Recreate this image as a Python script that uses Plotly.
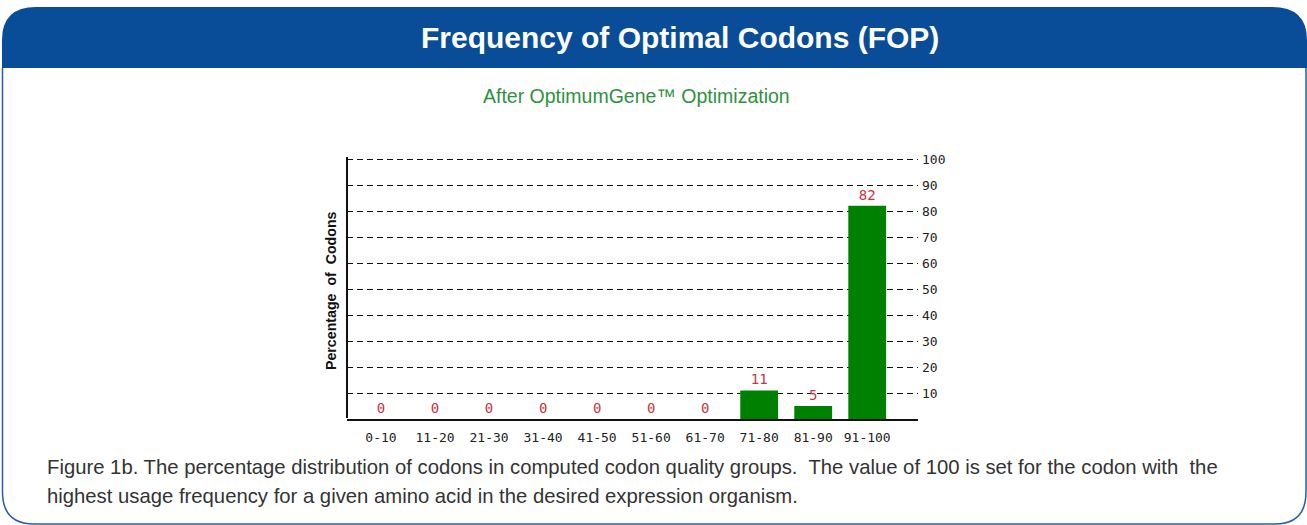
import plotly.graph_objects as go

W, H = 1307, 525

categories = ["0-10", "11-20", "21-30", "31-40", "41-50", "51-60", "61-70", "71-80", "81-90", "91-100"]
values = [0, 0, 0, 0, 0, 0, 0, 11, 5, 82]
y_ticks = [10, 20, 30, 40, 50, 60, 70, 80, 90, 100]

title_text = "Frequency of Optimal Codons (FOP)"
subtitle_text = "After OptimumGene\u2122 Optimization"
y_title = "Percentage\u00a0 of\u00a0 Codons"
caption_1 = "Figure 1b. The percentage distribution of codons in computed codon quality groups.\u00a0 The value of 100 is set for the codon with\u00a0 the"
caption_2 = "highest usage frequency for a given amino acid in the desired expression organism."


def px(x):
    return x / W


def py(y):
    return 1 - y / H


mono = "DejaVu Sans Mono"
sans = "Liberation Sans, Arial"
narrow = "Liberation Sans Narrow, Arial Narrow, Liberation Sans"

fig = go.Figure()
fig.add_trace(go.Bar(
    x=categories, y=values,
    marker=dict(color="#008000", line=dict(width=0)),
    text=[str(v) for v in values],
    textposition="outside",
    textfont=dict(family=mono, size=14, color="#cc3344"),
    cliponaxis=False,
    width=0.7,
))

# plot area in pixels (value 0 at y=419, 2.6 px per unit)
x0p, x1p = 347, 918
y_zero = 419
y_top_val = 101
y_top = y_zero - 2.6 * y_top_val

fig.update_layout(
    width=W, height=H,
    margin=dict(l=0, r=0, t=0, b=0, pad=0, autoexpand=False),
    paper_bgcolor="white", plot_bgcolor="white",
    showlegend=False,
    xaxis=dict(
        domain=[px(x0p), px(x1p)],
        range=[-0.63, 9.94],
        automargin=False,
        showgrid=False, zeroline=False,
        showline=True, linecolor="#111", linewidth=2,
        ticks="", ticklabelstandoff=5,
        tickfont=dict(family=mono, size=13, color="#222"),
        fixedrange=True,
    ),
    yaxis=dict(
        domain=[py(y_zero), py(y_top)],
        range=[0, y_top_val],
        automargin=False,
        side="right",
        tickvals=y_ticks,
        ticktext=[str(v) for v in y_ticks],
        showgrid=True, gridcolor="#111", gridwidth=1.4, griddash="6px,4px",
        zeroline=False, showline=False, ticks="",
        ticklabelstandoff=3,
        tickfont=dict(family=mono, size=13, color="#222"),
        fixedrange=True,
    ),
    shapes=[
        # left axis line
        dict(type="line", xref="paper", yref="paper",
             x0=px(x0p), x1=px(x0p), y0=py(418), y1=py(157),
             line=dict(color="#111", width=2)),
        # header
        dict(type="path", xref="paper", yref="paper",
             path=(f"M {px(2)},{py(68)} L {px(2)},{py(40)} Q {px(2)},{py(7)} {px(36)},{py(7)} "
                   f"L {px(1272)},{py(7)} Q {px(1307)},{py(7)} {px(1307)},{py(40)} "
                   f"L {px(1307)},{py(68)} Z"),
             fillcolor="#094c97", line=dict(width=0), layer="above"),
        # frame
        dict(type="path", xref="paper", yref="paper",
             path=(f"M {px(2.5)},{py(68)} L {px(2.5)},{py(492)} Q {px(2.5)},{py(524)} {px(34)},{py(524)} "
                   f"L {px(1275)},{py(524)} Q {px(1306)},{py(524)} {px(1306)},{py(492)} "
                   f"L {px(1306)},{py(68)}"),
             line=dict(color="#2a5ca8", width=1.5)),
    ],
    annotations=[
        dict(text=f"<b>{title_text}</b>", xref="paper", yref="paper",
             x=px(680), y=py(37), xanchor="center", yanchor="middle", showarrow=False,
             font=dict(family=sans, size=30, color="white")),
        dict(text=subtitle_text, xref="paper", yref="paper",
             x=px(636), y=py(96), xanchor="center", yanchor="middle", showarrow=False,
             font=dict(family=sans, size=19.5, color="#2f9140")),
        dict(text=f"<b>{y_title}</b>", xref="paper", yref="paper",
             x=px(331), y=py(291), xanchor="center", yanchor="middle", showarrow=False,
             textangle=-90,
             font=dict(family=narrow, size=14.2, color="#111")),
        dict(text=caption_1, xref="paper", yref="paper",
             x=px(45), y=py(467), xanchor="left", yanchor="middle", showarrow=False,
             font=dict(family=sans, size=20.3, color="#333")),
        dict(text=caption_2, xref="paper", yref="paper",
             x=px(45), y=py(496), xanchor="left", yanchor="middle", showarrow=False,
             font=dict(family=sans, size=20.3, color="#333")),
    ],
)

post = ("var gd=document.getElementById('{plot_id}');"
        "document.body.style.margin='0';document.body.style.overflow='hidden';"
        "gd.style.position='absolute';gd.style.left='0px';gd.style.top='0px';")

fig.write_html("out.html", post_script=post, config={"displayModeBar": False})
